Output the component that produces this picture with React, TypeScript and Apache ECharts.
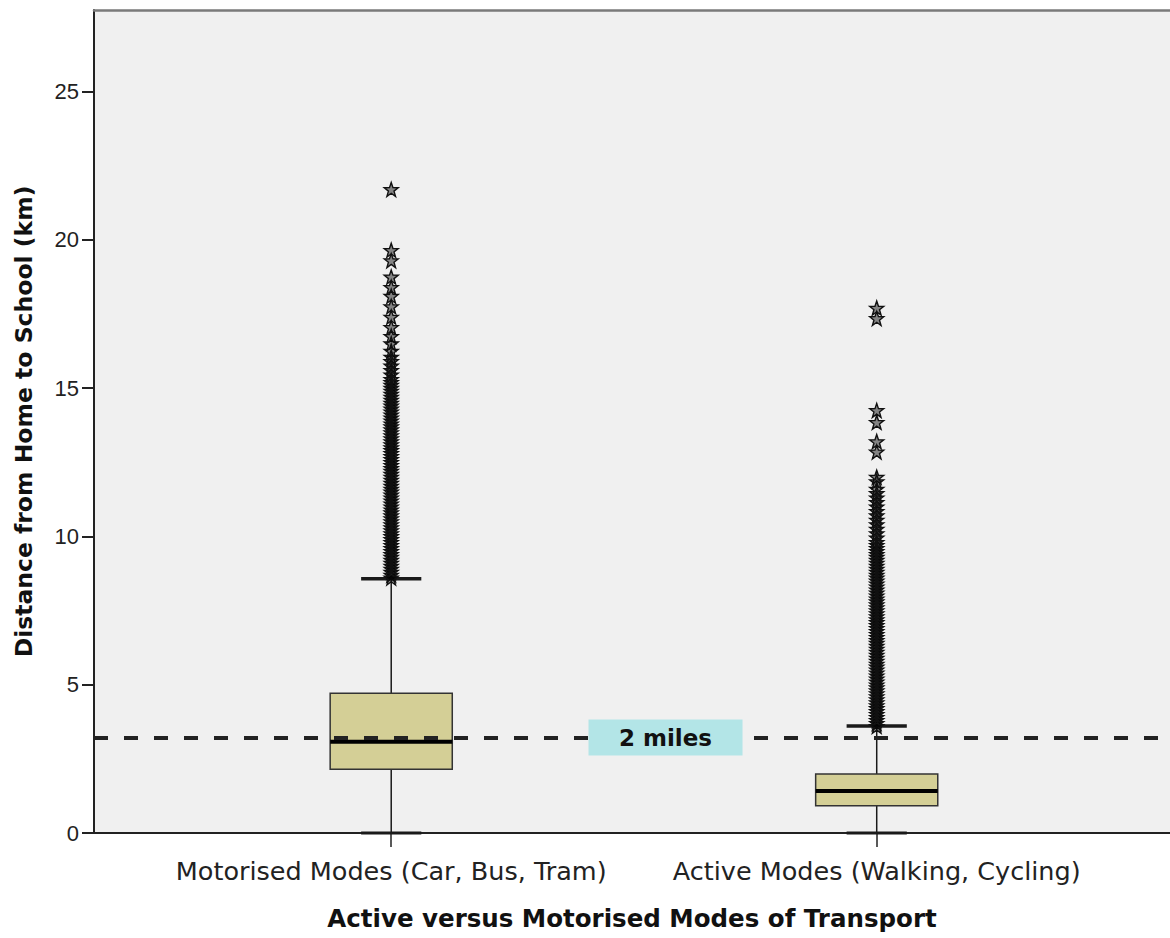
import React, { useEffect, useRef } from 'react';
import * as echarts from 'echarts';

// ---- data (km) ----
const categories = ['Motorised Modes (Car, Bus, Tram)', 'Active Modes (Walking, Cycling)'];
const categoryX = [1, 2];
// [min, q1, median, q3, max(upper whisker)]
const motorisedBox = [0, 2.15, 3.08, 4.71, 8.57];
const activeBox = [0, 0.92, 1.42, 1.99, 3.61];

const motorisedOutliers = [
  21.7, 19.65, 19.3, 18.75, 18.4, 18.1, 17.75, 17.4, 17.05, 16.75, 16.5, 16.25, 16.05, 15.9,
  15.75, 15.6, 15.45, 15.3, 15.2, 15.1, 15.0, 14.9, 14.8, 14.7, 14.6, 14.5, 14.4, 14.3, 14.2,
  14.1, 14.0, 13.9, 13.8, 13.7, 13.6, 13.5, 13.4, 13.3, 13.2, 13.1, 13.0, 12.9, 12.8, 12.7,
  12.6, 12.5, 12.4, 12.3, 12.2, 12.1, 12.0, 11.9, 11.8, 11.7, 11.6, 11.5, 11.4, 11.3, 11.2,
  11.1, 11.0, 10.9, 10.8, 10.7, 10.6, 10.5, 10.4, 10.3, 10.2, 10.1, 10.0, 9.9, 9.8, 9.7, 9.6,
  9.5, 9.4, 9.3, 9.2, 9.1, 9.0, 8.9, 8.8, 8.7, 8.6,
];

const activeOutliers = [
  17.7, 17.35, 14.25, 13.85, 13.2, 12.85, 12.0, 11.85, 11.6, 11.45, 11.3, 11.15, 11.0, 10.85,
  10.7, 10.55, 10.4, 10.25, 10.1, 9.95, 9.8, 9.7, 9.6, 9.5, 9.4, 9.3, 9.2, 9.1, 9.0, 8.9, 8.8,
  8.7, 8.6, 8.5, 8.4, 8.3, 8.2, 8.1, 8.0, 7.9, 7.8, 7.7, 7.6, 7.5, 7.4, 7.3, 7.2, 7.1, 7.0,
  6.9, 6.8, 6.7, 6.6, 6.5, 6.4, 6.3, 6.2, 6.1, 6.0, 5.9, 5.8, 5.7, 5.6, 5.5, 5.4, 5.3, 5.2,
  5.1, 5.0, 4.9, 4.8, 4.7, 4.6, 4.5, 4.4, 4.3, 4.2, 4.1, 4.0, 3.9, 3.8, 3.7, 3.6,
];

const twoMilesKm = 3.22;
const referenceLabel = '2 miles';
const yTickValues = [0, 5, 10, 15, 20, 25];
const yMax = 27.75;
const xMin = 0.3878;
const xMax = 2.6041;
const labelX = 1.565;

const STAR =
  'path://M50 0 L61.8 33.8 L97.6 34.5 L69 56.2 L79.4 90.5 L50 70 L20.6 90.5 L31 56.2 L2.4 34.5 L38.2 33.8 Z';

export default function App() {
  const ref = useRef<HTMLDivElement>(null);

  useEffect(() => {
    if (!ref.current) return;
    const chart = echarts.init(ref.current, null, { renderer: 'svg' });

    const boxData = [motorisedBox, activeBox].map((s, i) => [categoryX[i], ...s]);
    const outlierData = [
      ...motorisedOutliers.map((v) => [categoryX[0], v]),
      ...activeOutliers.map((v) => [categoryX[1], v]),
    ];

    const option: any = {
      animation: false,
      grid: {
        show: true,
        left: 94,
        right: 0,
        top: 10,
        bottom: 105,
        backgroundColor: '#f0f0f0',
        borderWidth: 0,
      },
      xAxis: [
        {
          type: 'value',
          min: xMin,
          max: xMax,
          position: 'bottom',
          name: 'Active versus Motorised Modes of Transport',
          nameLocation: 'middle',
          nameGap: 73,
          nameTextStyle: {
            fontFamily: 'DejaVu Sans',
            fontWeight: 'bold',
            fontSize: 24.5,
            color: '#111',
          },
          axisLine: { show: true, lineStyle: { color: '#222', width: 2 } },
          axisTick: {
            show: true,
            customValues: categoryX,
            length: 14,
            lineStyle: { color: '#222', width: 1.5 },
          },
          axisLabel: {
            show: true,
            customValues: categoryX,
            formatter: (v: number) => categories[Math.round(v) - 1] ?? '',
            fontFamily: 'DejaVu Sans',
            fontSize: 25.5,
            color: '#222',
            margin: 25,
          },
          splitLine: { show: false },
        },
        {
          type: 'value',
          min: xMin,
          max: xMax,
          position: 'top',
          axisLine: { show: true, onZero: false, lineStyle: { color: '#7a7a7a', width: 2.5 } },
          axisTick: { show: false },
          axisLabel: { show: false },
          splitLine: { show: false },
        },
      ],
      yAxis: {
        type: 'value',
        min: 0,
        max: yMax,
        name: 'Distance from Home to School (km)',
        nameLocation: 'middle',
        nameGap: 58,
        nameTextStyle: {
          fontFamily: 'DejaVu Sans',
          fontWeight: 'bold',
          fontSize: 23.5,
          color: '#111',
        },
        axisLine: { show: true, lineStyle: { color: '#222', width: 2 } },
        axisTick: {
          show: true,
          customValues: yTickValues,
          length: 12,
          lineStyle: { color: '#222', width: 2 },
        },
        axisLabel: {
          show: true,
          customValues: yTickValues,
          fontFamily: 'Liberation Sans',
          fontSize: 22,
          color: '#222',
          margin: 15,
        },
        splitLine: { show: false },
      },
      series: [
        {
          type: 'custom',
          xAxisIndex: 0,
          data: boxData,
          encode: { x: 0, y: [1, 2, 3, 4, 5] },
          z: 2,
          renderItem: (params: any, api: any) => {
            const x = api.value(0);
            const pLo = api.coord([x, api.value(1)]);
            const yQ1 = api.coord([x, api.value(2)])[1];
            const yMed = api.coord([x, api.value(3)])[1];
            const yQ3 = api.coord([x, api.value(4)])[1];
            const yHi = api.coord([x, api.value(5)])[1];
            const cx = pLo[0];
            const yLo = pLo[1];
            const bw = api.size([0.2515, 0])[0];
            const cw = api.size([0.124, 0])[0];
            const dark = '#1a1a1a';
            return {
              type: 'group',
              children: [
                { type: 'line', shape: { x1: cx, y1: yQ3, x2: cx, y2: yHi }, style: { stroke: dark, lineWidth: 1.5 } },
                { type: 'line', shape: { x1: cx, y1: yQ1, x2: cx, y2: yLo }, style: { stroke: dark, lineWidth: 1.5 } },
                { type: 'line', shape: { x1: cx - cw / 2, y1: yHi, x2: cx + cw / 2, y2: yHi }, style: { stroke: dark, lineWidth: 3.5 } },
                { type: 'line', shape: { x1: cx - cw / 2, y1: yLo, x2: cx + cw / 2, y2: yLo }, style: { stroke: dark, lineWidth: 3 } },
                {
                  type: 'rect',
                  shape: { x: cx - bw / 2, y: yQ3, width: bw, height: yQ1 - yQ3 },
                  style: { fill: '#d4cf96', stroke: '#333', lineWidth: 1.5 },
                },
                { type: 'line', shape: { x1: cx - bw / 2, y1: yMed, x2: cx + bw / 2, y2: yMed }, style: { stroke: '#000', lineWidth: 4 } },
              ],
            };
          },
        },
        {
          type: 'scatter',
          xAxisIndex: 0,
          data: outlierData,
          symbol: STAR,
          symbolSize: 14,
          itemStyle: { color: 'rgba(0,0,0,0.45)', borderColor: '#111', borderWidth: 1.4, opacity: 1 },
          z: 3,
        },
        {
          type: 'line',
          xAxisIndex: 0,
          data: [],
          z: 4,
          markLine: {
            silent: true,
            symbol: ['none', 'none'],
            label: { show: false },
            lineStyle: { type: [14, 16], width: 4, color: '#222' },
            data: [{ yAxis: twoMilesKm }],
          },
        },
        {
          type: 'scatter',
          xAxisIndex: 0,
          data: [],
          z: 5,
          markPoint: {
            silent: true,
            data: [
              {
                coord: [labelX, twoMilesKm],
                symbol: 'rect',
                symbolSize: [154, 36],
                itemStyle: { color: '#b3e5e7' },
                label: {
                  show: true,
                  position: 'inside',
                  formatter: referenceLabel,
                  fontFamily: 'DejaVu Sans',
                  fontWeight: 'bold',
                  fontSize: 23,
                  color: '#111',
                },
              },
            ],
          },
        },
      ],
    };

    chart.setOption(option);
    return () => chart.dispose();
  }, []);

  return (
    <div
      ref={ref}
      style={{ position: 'absolute', left: 0, top: 0, width: 1170, height: 938, background: '#fff' }}
    />
  );
}
